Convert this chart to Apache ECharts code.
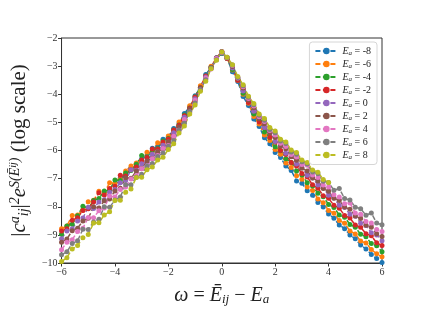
<!DOCTYPE html>
<html><head><meta charset="utf-8">
<script src="https://cdn.jsdelivr.net/npm/echarts@6/dist/echarts.min.js"></script>
<style>html,body{margin:0;padding:0;background:#fff}#c{width:424px;height:311px}</style>
</head><body><div id="c"></div>
<script>
const omega = [-6.0,-5.8,-5.6,-5.4,-5.2,-5.0,-4.8,-4.6,-4.4,-4.2,-4.0,-3.8,-3.6,-3.4,-3.2,-3.0,-2.8,-2.6,-2.4,-2.2,-2.0,-1.8,-1.6,-1.4,-1.2,-1.0,-0.8,-0.6,-0.4,-0.2,0.0,0.2,0.4,0.6,0.8,1.0,1.2,1.4,1.6,1.8,2.0,2.2,2.4,2.6,2.8,3.0,3.2,3.4,3.6,3.8,4.0,4.2,4.4,4.6,4.8,5.0,5.2,5.4,5.6,5.8,6.0];
const eaValues = ['-8','-6','-4','-2','0','2','4','6','8'];
const xTicks = [-6,-4,-2,0,2,4,6];
const yTicks = [-10,-9,-8,-7,-6,-5,-4,-3,-2];

const ea_m8 = [null,null,null,null,null,null,null,null,null,null,-7.25,-6.98,-6.90,-6.62,-6.55,-6.30,-6.20,-5.92,-5.88,-5.60,-5.50,-5.22,-5.05,-4.68,-4.45,-4.05,-3.76,-3.30,-3.05,-2.70,-2.55,-2.73,-3.20,-3.55,-4.08,-4.40,-4.88,-5.15,-5.55,-5.76,-6.07,-6.25,-6.55,-6.71,-7.08,-7.16,-7.43,-7.59,-7.85,-8.01,-8.26,-8.41,-8.65,-8.78,-9.00,-9.14,-9.36,-9.50,-9.70,-9.84,-9.98];
const ea_m6 = [-8.78,-8.68,-8.31,-8.29,-8.12,-7.82,-7.77,-7.45,-7.50,-7.15,-7.16,-7.02,-6.73,-6.55,-6.44,-6.37,-6.06,-6.03,-5.72,-5.73,-5.48,-5.32,-4.99,-4.79,-4.41,-4.13,-3.70,-3.39,-3.00,-2.74,-2.50,-2.72,-3.14,-3.50,-4.00,-4.32,-4.79,-5.06,-5.45,-5.64,-5.96,-6.13,-6.44,-6.60,-6.90,-7.02,-7.30,-7.42,-7.72,-7.86,-8.13,-8.23,-8.49,-8.59,-8.86,-8.97,-9.22,-9.29,-9.52,-9.67,-9.78];
const ea_m4 = [-8.98,-8.68,-8.62,-8.32,-7.98,-8.06,-7.78,-7.71,-7.44,-7.41,-7.05,-7.07,-6.80,-6.71,-6.49,-6.18,-6.23,-6.00,-5.93,-5.66,-5.57,-5.27,-5.09,-4.74,-4.49,-4.09,-3.77,-3.35,-3.05,-2.71,-2.54,-2.70,-3.12,-3.47,-3.96,-4.26,-4.70,-4.95,-5.34,-5.54,-5.87,-6.01,-6.29,-6.43,-6.73,-6.87,-7.15,-7.26,-7.52,-7.64,-7.92,-8.03,-8.29,-8.37,-8.63,-8.73,-8.98,-9.07,-9.31,-9.39,-9.60];
const ea_m2 = [-8.86,-8.78,-8.48,-8.39,-8.13,-8.07,-7.83,-7.50,-7.58,-7.35,-7.27,-6.88,-6.91,-6.68,-6.59,-6.34,-6.25,-5.95,-5.95,-5.70,-5.59,-5.27,-5.10,-4.76,-4.50,-4.10,-3.77,-3.35,-3.07,-2.71,-2.48,-2.73,-3.04,-3.50,-3.84,-4.29,-4.59,-4.99,-5.18,-5.53,-5.70,-6.00,-6.14,-6.43,-6.55,-6.82,-6.94,-7.22,-7.34,-7.61,-7.70,-7.95,-8.05,-8.31,-8.40,-8.65,-8.73,-8.96,-9.03,-9.28,-9.38];
const ea_0 = [-9.14,-8.86,-8.78,-8.51,-8.40,-8.02,-8.06,-7.83,-7.75,-7.48,-7.39,-7.15,-7.07,-6.68,-6.70,-6.47,-6.38,-6.13,-6.04,-5.81,-5.70,-5.37,-5.18,-4.82,-4.56,-4.16,-3.82,-3.39,-3.08,-2.72,-2.53,-2.68,-3.07,-3.41,-3.88,-4.17,-4.60,-4.83,-5.18,-5.36,-5.68,-5.82,-6.10,-6.21,-6.48,-6.60,-6.88,-6.98,-7.23,-7.33,-7.59,-7.69,-7.95,-8.03,-8.27,-8.34,-8.59,-8.67,-8.92,-9.00,-9.21];
const ea_2 = [-9.26,-9.15,-8.85,-8.76,-8.51,-8.41,-8.00,-8.04,-7.79,-7.72,-7.44,-7.34,-6.97,-6.99,-6.73,-6.64,-6.37,-6.28,-6.04,-5.94,-5.69,-5.50,-5.16,-4.93,-4.53,-4.24,-3.78,-3.44,-3.04,-2.76,-2.50,-2.71,-3.01,-3.45,-3.78,-4.20,-4.48,-4.87,-5.05,-5.38,-5.54,-5.83,-5.94,-6.22,-6.35,-6.63,-6.73,-6.98,-7.08,-7.35,-7.45,-7.70,-7.78,-8.01,-8.09,-8.33,-8.42,-8.66,-8.73,-8.96,-9.06];
const ea_4 = [-9.53,-9.26,-9.17,-8.88,-8.76,-8.38,-8.39,-8.14,-8.04,-7.62,-7.65,-7.39,-7.30,-7.01,-6.90,-6.65,-6.56,-6.29,-6.18,-5.93,-5.82,-5.49,-5.28,-4.90,-4.63,-4.21,-3.85,-3.42,-3.10,-2.73,-2.51,-2.70,-2.98,-3.42,-3.73,-4.15,-4.42,-4.80,-4.97,-5.29,-5.45,-5.74,-5.86,-6.14,-6.23,-6.50,-6.52,-6.87,-6.96,-7.23,-7.30,-7.57,-7.65,-7.89,-7.87,-8.22,-8.27,-8.52,-8.58,-8.81,-8.88];
const ea_6 = [-9.71,-9.60,-9.31,-9.21,-8.80,-8.81,-8.54,-8.44,-8.00,-8.02,-7.76,-7.65,-7.22,-7.22,-6.95,-6.84,-6.56,-6.46,-6.21,-6.09,-5.85,-5.65,-5.28,-5.03,-4.62,-4.31,-3.84,-3.48,-3.07,-2.77,-2.49,-2.69,-2.96,-3.40,-3.70,-4.11,-4.37,-4.75,-4.92,-5.25,-5.37,-5.66,-5.75,-6.05,-6.13,-6.40,-6.48,-6.76,-6.83,-7.09,-7.14,-7.41,-7.35,-7.71,-7.76,-8.02,-8.07,-8.30,-8.22,-8.58,-8.64];
const ea_8 = [-9.95,-9.81,-9.50,-9.38,-9.10,-8.99,-8.58,-8.57,-8.29,-8.18,-7.78,-7.77,-7.48,-7.37,-6.96,-6.95,-6.68,-6.59,-6.34,-6.24,-5.96,-5.76,-5.38,-5.13,-4.70,-4.38,-3.89,-3.54,-3.09,-2.79,-2.50,-2.68,-2.95,-3.37,-3.66,-4.07,-4.33,-4.70,-4.86,-5.18,-5.31,-5.60,-5.70,-5.98,-6.07,-6.34,-6.43,-6.69,-6.77,-7.03,-7.14,null,null,null,null,null,null,null,null,null,null];

const seriesValues = [ea_m8, ea_m6, ea_m4, ea_m2, ea_0, ea_2, ea_4, ea_6, ea_8];
const colors = ['#1f77b4','#ff7f0e','#2ca02c','#d62728','#9467bd','#8c564b','#e377c2','#7f7f7f','#bcbd22'];
const serif = 'Liberation Serif';
const minus = v => String(v).replace('-', '\u2212');

const series = seriesValues.map((vals, k) => ({
  name: 'E_a = ' + eaValues[k],
  type: 'line',
  data: vals.map((v, i) => v === null ? null : [omega[i], v]).filter(p => p !== null),
  symbol: 'circle',
  symbolSize: 5,
  showSymbol: true,
  color: colors[k],
  lineStyle: { width: 1.5, type: [5, 2.5], color: colors[k] },
  itemStyle: { color: colors[k], borderWidth: 0 },
  emphasis: { disabled: true },
  animation: false
}));

const chart = echarts.init(document.getElementById('c'), null, { renderer: 'canvas' });
chart.setOption({
  backgroundColor: '#fff',
  animation: false,
  grid: { left: 54, right: 42, top: 38, bottom: 35, show: true, borderColor: '#333', borderWidth: 1, containLabel: false },
  legend: {
    orient: 'vertical', right: 47, top: 42,
    data: series.map(s => s.name),
    backgroundColor: '#fff', borderColor: '#d6d6d6', borderWidth: 1, borderRadius: 3,
    padding: [4, 6, 4, 5], itemGap: 2.5, itemWidth: 22, itemHeight: 8,
    formatter: name => '{e|E}{s|a}{t| = ' + name.split('= ')[1] + '}',
    textStyle: {
      color: '#222', fontFamily: serif, fontSize: 10,
      rich: {
        e: { fontFamily: serif, fontStyle: 'italic', fontSize: 10, color: '#222' },
        s: { fontFamily: serif, fontStyle: 'italic', fontSize: 7, color: '#222', verticalAlign: 'bottom', padding: [4, 0, 0, 0] },
        t: { fontFamily: serif, fontSize: 10, color: '#222' }
      }
    }
  },
  xAxis: {
    type: 'value', min: -6, max: 6, interval: 2,
    axisLine: { show: true, onZero: false, lineStyle: { color: '#333', width: 1 } },
    axisTick: { show: true, length: 3.5, lineStyle: { color: '#333' } },
    splitLine: { show: false },
    axisLabel: { fontFamily: serif, fontSize: 10, color: '#333', margin: 4, formatter: minus, customValues: xTicks },
    name: '{i|ω}{n| = }{i|Ē}{sub|ij}{n| − }{i|E}{sub|a}',
    nameLocation: 'middle', nameGap: 22,
    nameTextStyle: {
      rich: {
        i: { fontFamily: serif, fontStyle: 'italic', fontSize: 20, color: '#222' },
        n: { fontFamily: serif, fontSize: 20, color: '#222' },
        sub: { fontFamily: serif, fontStyle: 'italic', fontSize: 13, color: '#222', verticalAlign: 'bottom', padding: [8, 0, 0, 0] }
      }
    }
  },
  yAxis: {
    type: 'value', min: -10, max: -2, interval: 1,
    axisLine: { show: true, onZero: false, lineStyle: { color: '#333', width: 1 } },
    axisTick: { show: true, length: 3.5, lineStyle: { color: '#333' } },
    splitLine: { show: false },
    axisLabel: { fontFamily: serif, fontSize: 10, color: '#333', margin: 4, formatter: minus, customValues: yTicks },
    name: '{n||}{i|c}{sup|a}{sub|ij}{n||}{sup|2}{i|e}{sup|S(}{supi|Ē}{sup2|ij}{sup|)}{n| (log scale)}',
    nameLocation: 'middle', nameRotate: 90, nameGap: 24,
    nameTextStyle: {
      rich: {
        i: { fontFamily: serif, fontStyle: 'italic', fontSize: 21, color: '#222' },
        n: { fontFamily: serif, fontSize: 21, color: '#222' },
        sup: { fontFamily: serif, fontStyle: 'italic', fontSize: 14, color: '#222', verticalAlign: 'top', padding: [0, 0, 9, 0] },
        supi: { fontFamily: serif, fontStyle: 'italic', fontSize: 14, color: '#222', verticalAlign: 'top', padding: [0, 0, 9, 0] },
        sup2: { fontFamily: serif, fontStyle: 'italic', fontSize: 10, color: '#222', verticalAlign: 'top', padding: [0, 0, 4, 0] },
        sub: { fontFamily: serif, fontStyle: 'italic', fontSize: 14, color: '#222', verticalAlign: 'bottom', padding: [9, 0, 0, 0] }
      }
    }
  },
  series: series
});
</script>
</body></html>
